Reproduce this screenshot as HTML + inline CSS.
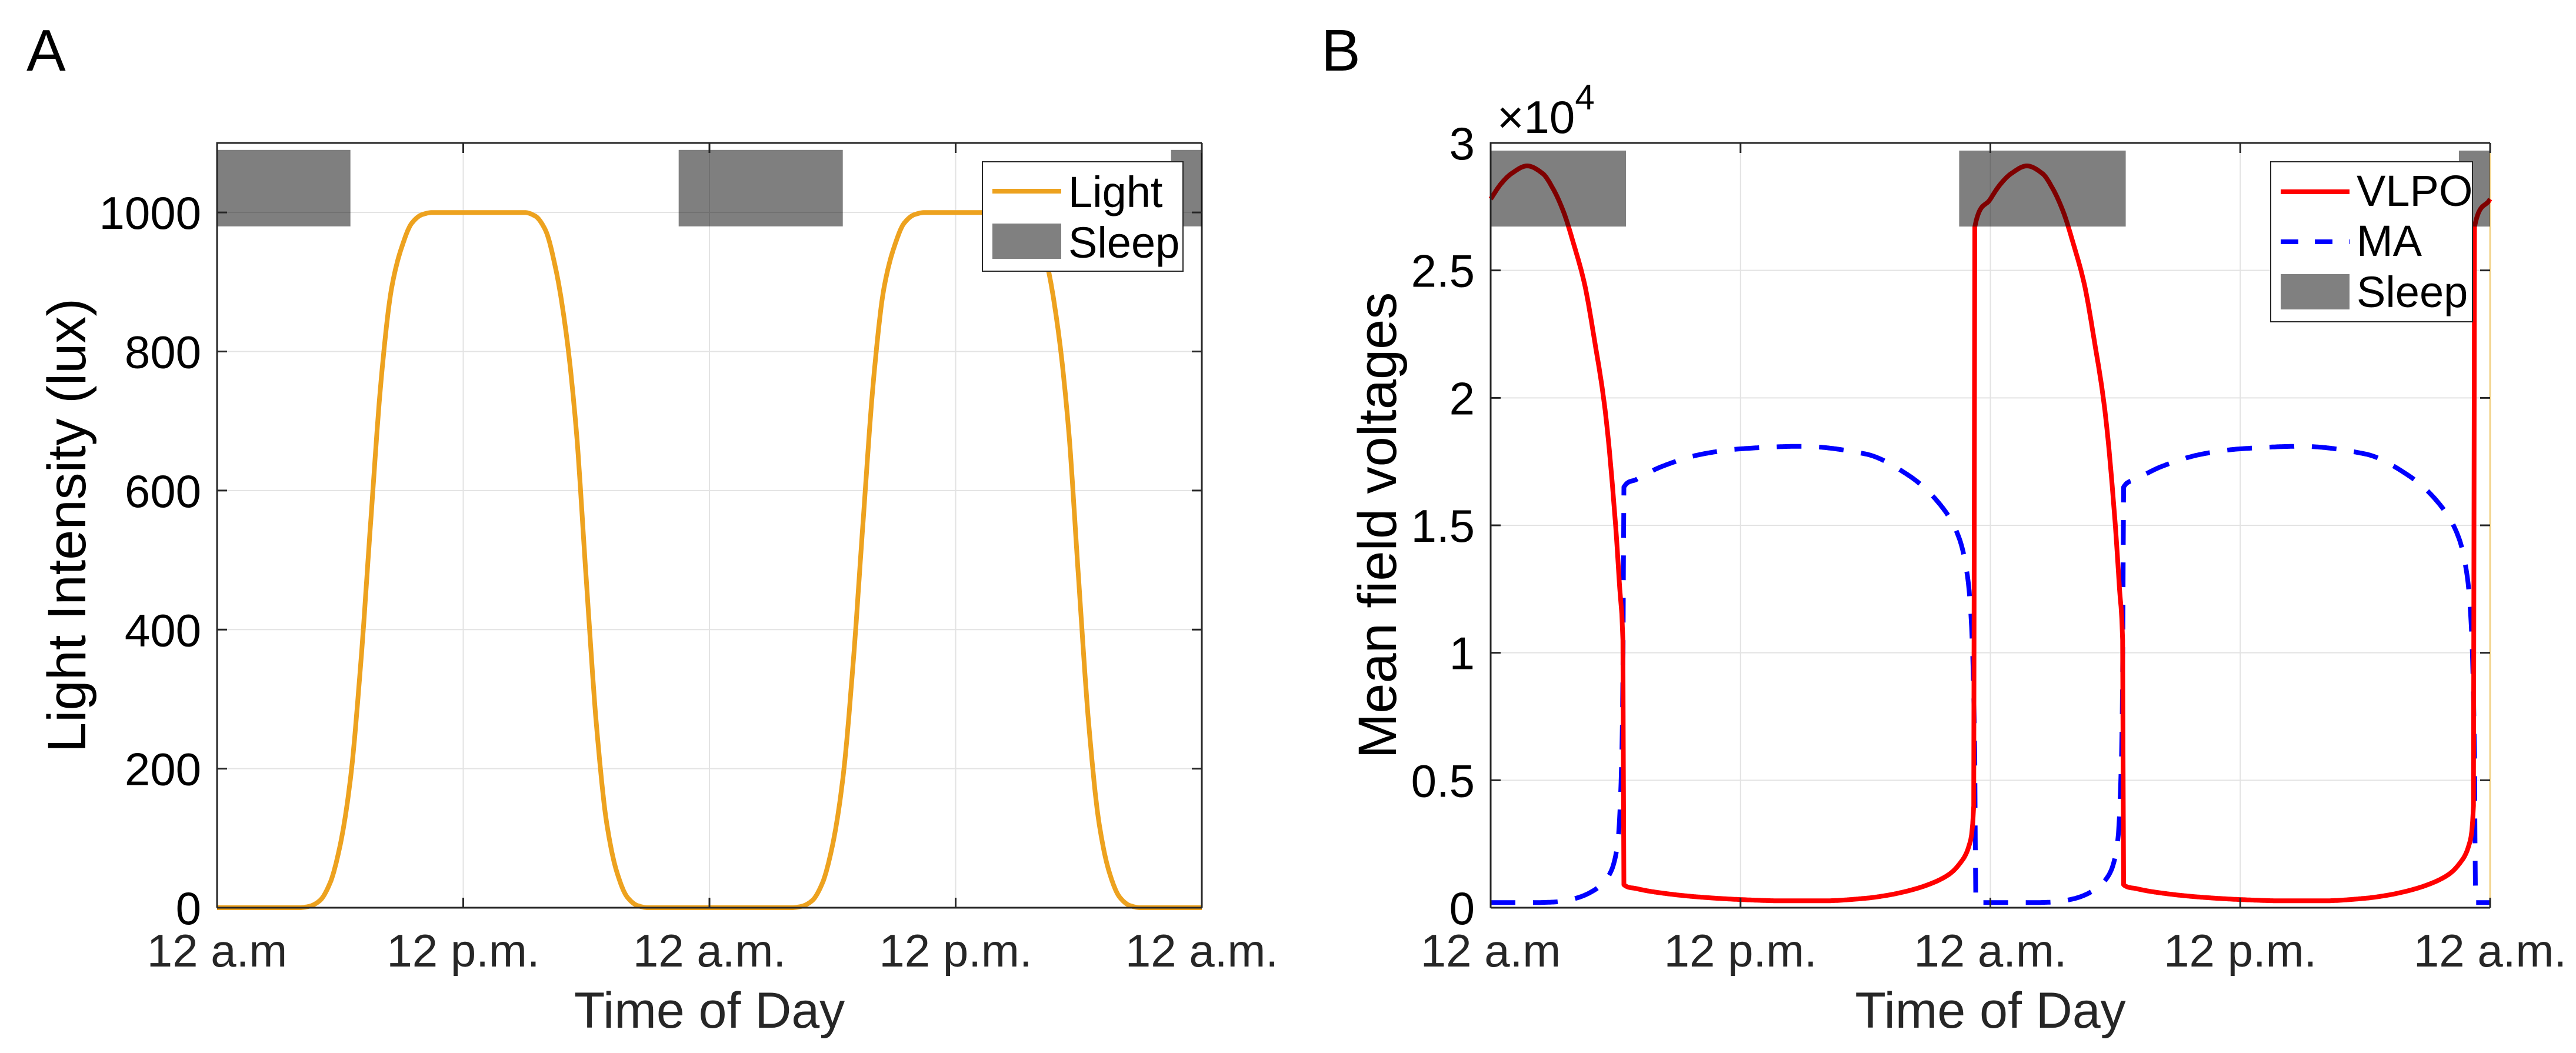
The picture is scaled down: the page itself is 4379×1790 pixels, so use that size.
<!DOCTYPE html>
<html><head><meta charset="utf-8"><style>
html,body{margin:0;padding:0;background:#fff;}
svg{display:block;font-family:"Liberation Sans",Arial,sans-serif;}
</style></head><body>
<svg id="fig" width="4379" height="1790" viewBox="0 0 4379 1790" xmlns="http://www.w3.org/2000/svg">
<rect x="0" y="0" width="4379" height="1790" fill="#fff"/>
<g id="panelA"></g>
<g id="panelB"></g>
</svg>
<script>
// ---- shared data ----
const xTickHours = [0, 12, 24, 36, 48];
const xTickLabels = ["12 a.m", "12 p.m.", "12 a.m.", "12 p.m.", "12 a.m."];
const sleepStarts = [-1.5, 22.5, 46.5];
const sleepEnds = [6.5, 30.5, 54.5];

// Panel A: light intensity (lux), one-day profile repeated for day 2
const lightHours = [0,3,4,4.5,5,5.5,6,6.5,7,7.5,8,8.5,9,9.5,10,10.5,15,15.5,16,16.5,17,17.5,18,18.5,19,19.5,20,20.5,21,24];
const lightValues = [0,0,0,2,10,35,90,185,350,560,760,890,950,985,997,1000,1000,995,975,920,830,690,470,260,120,50,15,3,0,0];
const aYTicks = [0,200,400,600,800,1000];
const aYTickLabels = ["0","200","400","600","800","1000"];

// Panel B: mean field voltages (x10^4), one-day profile repeated
const vlpoHours = [0,0.5,1,1.75,2.5,3,3.5,4,4.5,5,5.5,6,6.2,6.35,6.4,7,8,10,12,14,16,18,19,20,21,22,22.5,23,23.2,23.25,24];
const vlpoValues = [2.78,2.84,2.88,2.91,2.88,2.82,2.73,2.60,2.45,2.22,1.95,1.50,1.25,1.05,0.09,0.075,0.06,0.042,0.032,0.027,0.027,0.037,0.048,0.065,0.09,0.13,0.17,0.25,0.40,2.67,2.78];
const maHours = [0,1,2,3,4,5,5.7,6.1,6.3,6.36,6.4,7,8.2,10.2,12,14.9,18,20,21.6,22.5,22.9,23.1,23.25,23.3,24];
const maValues = [0.02,0.02,0.02,0.022,0.035,0.07,0.13,0.25,0.6,1.0,1.65,1.68,1.73,1.78,1.80,1.81,1.78,1.70,1.58,1.45,1.30,1.10,0.6,0.02,0.02];
const bYTicks = [0,0.5,1,1.5,2,2.5,3];
const bYTickLabels = ["0","0.5","1","1.5","2","2.5","3"];

const NS = "http://www.w3.org/2000/svg";
function mk(parent, tag, attrs, text) {
  const e = document.createElementNS(NS, tag);
  for (const k in attrs) e.setAttribute(k, attrs[k]);
  if (text !== undefined) e.textContent = text;
  parent.appendChild(e);
  return e;
}
function twoDays(hours, vals, limit) {
  const pts = [];
  for (let d = 0; d < 2; d++) {
    for (let i = 0; i < hours.length; i++) {
      const h = hours[i] + 24 * d;
      if (d === 1 && i === 0) continue;
      if (h <= limit) pts.push([h, vals[i]]);
    }
  }
  return pts;
}
function smooth(pts) {
  const n = pts.length, xs = pts.map(p => p[0]), ys = pts.map(p => p[1]);
  const dx = [], m = [], t = new Array(n).fill(0);
  for (let i = 0; i < n - 1; i++) { dx.push(xs[i+1]-xs[i]); m.push((ys[i+1]-ys[i])/(xs[i+1]-xs[i])); }
  t[0] = m[0]; t[n-1] = m[n-2];
  for (let i = 1; i < n - 1; i++) {
    if (m[i-1] * m[i] <= 0) t[i] = 0;
    else { const w1 = 2*dx[i]+dx[i-1], w2 = dx[i]+2*dx[i-1]; t[i] = (w1+w2)/(w1/m[i-1]+w2/m[i]); }
  }
  const out = [];
  for (let i = 0; i < n - 1; i++) {
    const steps = Math.max(2, Math.ceil(dx[i] / 0.05));
    for (let s = 0; s < steps; s++) {
      const u = s / steps, h = dx[i];
      const h00 = 2*u*u*u-3*u*u+1, h10 = u*u*u-2*u*u+u, h01 = -2*u*u*u+3*u*u, h11 = u*u*u-u*u;
      out.push([xs[i]+u*h, h00*ys[i]+h10*h*t[i]+h01*ys[i+1]+h11*h*t[i+1]]);
    }
  }
  out.push([xs[n-1], ys[n-1]]);
  return out;
}

function drawPanel(g, cfg) {
  const L = cfg.left, R = cfg.right, T = 243, B = 1543;
  const sx = h => L + (h / 48) * (R - L);
  const sy = v => B - (v / cfg.ymax) * (B - T);
  xTickHours.forEach(h => {
    const l = mk(g, "line", {x1: sx(h), x2: sx(h), y1: T, y2: B, stroke: "#e3e3e3", "stroke-width": 2});
    
    
  });
  cfg.yTicks.forEach(v => {
    const l = mk(g, "line", {x1: L, x2: R, y1: sy(v), y2: sy(v), stroke: "#e3e3e3", "stroke-width": 2});
    
    
  });
  const rx = mk(g, "line", {x1: R, x2: R, y1: T, y2: B, stroke: cfg.rightColor, "stroke-width": 3});
  
  
  cfg.series.forEach(s => {
    const sp = smooth(s.pts);
    const d = sp.map((p, i) => (i ? "L" : "M") + sx(p[0]).toFixed(1) + " " + sy(p[1]).toFixed(1)).join(" ");
    const attrs = {d: d, fill: "none", stroke: s.color, "stroke-width": 8, "stroke-linejoin": "round"};
    if (s.dash) attrs["stroke-dasharray"] = "42 30";
    const p = mk(g, "path", attrs);
    
    
  });
  for (let i = 0; i < sleepStarts.length; i++) {
    const a = Math.max(0, sleepStarts[i]), b = Math.min(48, sleepEnds[i]);
    const r = mk(g, "rect", {x: sx(a), y: sy(cfg.barTop), width: sx(b) - sx(a), height: sy(cfg.barBot) - sy(cfg.barTop), fill: "#000", "fill-opacity": 0.5});
    
    
  }
  const ax = mk(g, "path", {d: `M${L} ${B} L${L} ${T} L${R} ${T}`, fill: "none", stroke: "#262626", "stroke-width": 3});
  
  
  const bx = mk(g, "line", {x1: L, x2: R, y1: B, y2: B, stroke: "#262626", "stroke-width": 3});
  
  
  xTickHours.forEach((h, i) => {
    mk(g, "line", {x1: sx(h), x2: sx(h), y1: B, y2: B - 17, stroke: "#262626", "stroke-width": 3});
    mk(g, "line", {x1: sx(h), x2: sx(h), y1: T, y2: T + 17, stroke: "#262626", "stroke-width": 3});
    const t = mk(g, "text", {x: sx(h), y: 1643, "font-size": 78, "text-anchor": "middle", fill: "#262626"}, xTickLabels[i]);
    
    
  });
  cfg.yTicks.forEach((v, i) => {
    mk(g, "line", {x1: L, x2: L + 17, y1: sy(v), y2: sy(v), stroke: "#262626", "stroke-width": 3});
    mk(g, "line", {x1: R, x2: R - 17, y1: sy(v), y2: sy(v), stroke: "#262626", "stroke-width": 3});
    const t = mk(g, "text", {x: L - 27, y: sy(v) + 28, "font-size": 78, "text-anchor": "end", fill: "#000"}, cfg.yTickLabels[i]);
    
    
  });
  const xl = mk(g, "text", {x: (L + R) / 2, y: 1747, "font-size": 86, "text-anchor": "middle", fill: "#262626"}, "Time of Day");
  
  
  const yl = mk(g, "text", {x: 0, y: 0, "font-size": 92, "text-anchor": "middle", fill: "#000", transform: `translate(${cfg.ylabelX},${(T + B) / 2}) rotate(-90)`}, cfg.ylabel);
  
  
  const pl = mk(g, "text", {x: cfg.letterX, y: 120, "font-size": 100, fill: "#000"}, cfg.letter);
  
  
}

function legend(g, x1, x2, y1, y2, entries) {
  const lg = mk(g, "g", {});
  
  
  mk(lg, "rect", {x: x1, y: y1, width: x2 - x1, height: y2 - y1, fill: "#fff", stroke: "#262626", "stroke-width": 2});
  entries.forEach(e => {
    const eg = mk(lg, "g", {});
    
    
    if (e.type === "patch") {
      mk(eg, "rect", {x: x1 + 17, y: e.y - 30, width: 117, height: 60, fill: "#808080"});
    } else {
      const a = {x1: x1 + 17, x2: x1 + 134, y1: e.y, y2: e.y, stroke: e.color, "stroke-width": 8};
      if (e.dash) a["stroke-dasharray"] = "30 28";
      mk(eg, "line", a);
    }
    mk(eg, "text", {x: x1 + 146, y: e.base, "font-size": 74, fill: "#000"}, e.label);
  });
}

const gA = document.getElementById("panelA");
drawPanel(gA, {left: 369, right: 2043, ymax: 1100, yTicks: aYTicks, yTickLabels: aYTickLabels,
  barTop: 1090, barBot: 980, rightColor: "#262626",
  series: [{name: "light-line", color: "#EDA21F", pts: twoDays(lightHours, lightValues, 48)}],
  ylabel: "Light Intensity (lux)", ylabelX: 145, letter: "A", letterX: 45});
legend(gA, 1670, 2011, 275, 461, [
  {type: "line", color: "#EDA21F", y: 325, base: 352, label: "Light"},
  {type: "patch", y: 410, base: 438, label: "Sleep"}
]);

const gB = document.getElementById("panelB");
drawPanel(gB, {left: 2534, right: 4233, ymax: 3, yTicks: bYTicks, yTickLabels: bYTickLabels,
  barTop: 2.97, barBot: 2.672, rightColor: "#F2D38A",
  series: [
    {name: "ma-line", color: "#0000FF", dash: true, pts: twoDays(maHours, maValues, 48)},
    {name: "vlpo-line", color: "#FF0000", pts: twoDays(vlpoHours, vlpoValues, 48)}
  ],
  ylabel: "Mean field voltages", ylabelX: 2373, letter: "B", letterX: 2246});
const ex = mk(gB, "text", {x: 2545, y: 226, "font-size": 78, fill: "#000"});


mk(ex, "tspan", {}, "×10");
mk(ex, "tspan", {dy: -40, "font-size": 60}, "4");
legend(gB, 3860, 4203, 275, 547, [
  {type: "line", color: "#FF0000", y: 326, base: 350, label: "VLPO"},
  {type: "line", color: "#0000FF", dash: true, y: 411, base: 435, label: "MA"},
  {type: "patch", y: 496, base: 522, label: "Sleep"}
]);
</script>
</body></html>
